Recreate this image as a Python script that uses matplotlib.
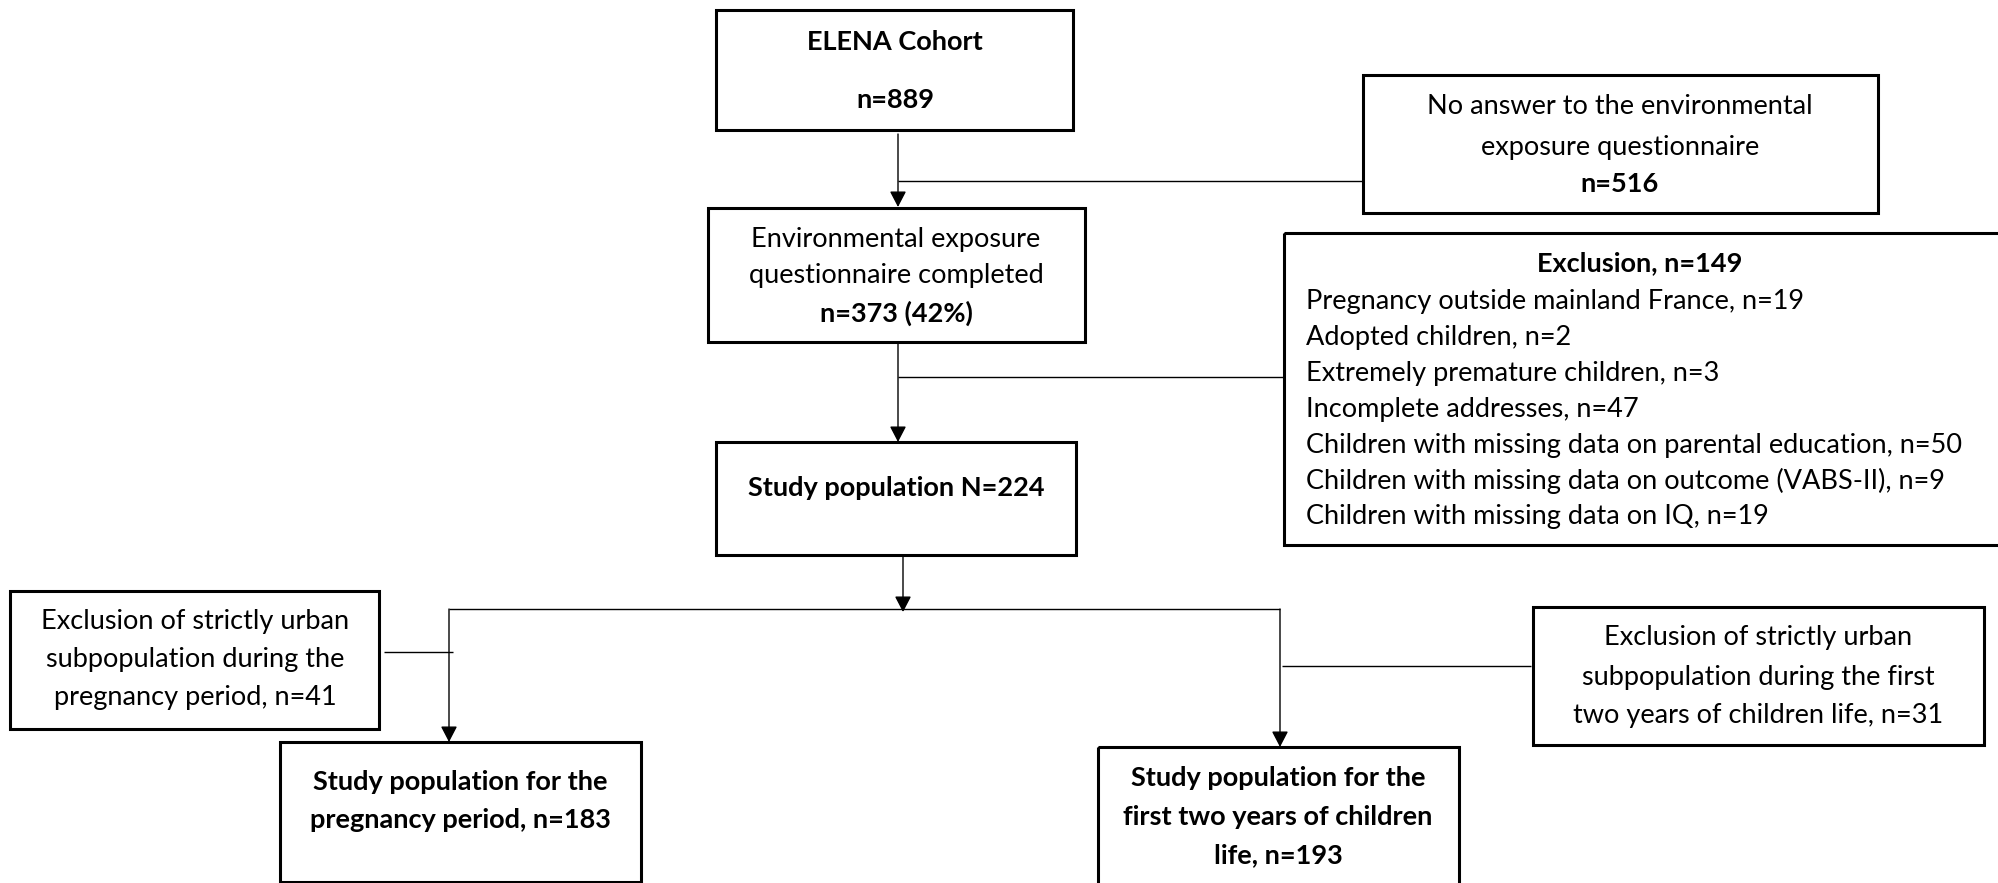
import matplotlib.pyplot as plt
from matplotlib.patches import Rectangle

# counts
n_cohort = 889
n_no_answer = 516
n_completed = 373
pct_completed = 42
n_excluded = 149
excl_reasons = ["Pregnancy outside mainland France", "Adopted children",
                "Extremely premature children", "Incomplete addresses",
                "Children with missing data on parental education",
                "Children with missing data on outcome (VABS-II)",
                "Children with missing data on IQ"]
excl_counts = [19, 2, 3, 47, 50, 9, 19]
n_study = 224
n_urban_preg = 41
n_preg = 183
n_urban_child = 31
n_child = 193

FONT = "Lato"
FS = 19.5
BOX_LW = 2.2
LINE_LW = 1.0

fig = plt.figure(figsize=(19.99, 8.83), dpi=100)
ax = fig.add_axes([0, 0, 1, 1])
ax.set_xlim(0, 1999)
ax.set_ylim(883, 0)
ax.axis("off")


def box(x0, y0, x1, y1):
    ax.add_patch(Rectangle((x0, y0), x1 - x0, y1 - y0, fill=False,
                           ec="black", lw=BOX_LW, clip_on=False))


def lines_centered(cx, rows):
    # rows: (y, text, bold)
    for y, txt, bold in rows:
        ax.text(cx, y, txt, ha="center", va="center", fontsize=FS,
                family=FONT, fontweight="bold" if bold else "normal")


def seg(xs, ys):
    ax.plot(xs, ys, color="black", lw=LINE_LW, solid_capstyle="butt")


def arrow(x, y0, y1):
    ax.annotate("", xy=(x, y1), xytext=(x, y0),
                arrowprops=dict(arrowstyle="-|>,head_length=0.48,head_width=0.25",
                                color="black", lw=LINE_LW, shrinkA=0, shrinkB=0,
                                mutation_scale=20))


# ELENA cohort
box(716, 10, 1073, 130)
lines_centered(895, [(42, "ELENA Cohort", True), (100, f"n={n_cohort}", True)])

# no answer
box(1363, 75, 1878, 213)
lines_centered(1620, [(106, "No answer to the environmental", False),
                      (147, "exposure questionnaire", False),
                      (184, f"n={n_no_answer}", True)])

# questionnaire completed
box(708, 208, 1085, 342)
lines_centered(896, [(240, "Environmental exposure", False),
                     (276, "questionnaire completed", False),
                     (313, f"n={n_completed} ({pct_completed}%)", True)])

# exclusion list
box(1284, 233, 2010, 545)
ax.text(1640, 263, f"Exclusion, n={n_excluded}", ha="center", va="center",
        fontsize=FS, family=FONT, fontweight="bold")
for i, (reason, cnt) in enumerate(zip(excl_reasons, excl_counts)):
    ax.text(1306, 302 + i * 35.8, f"{reason}, n={cnt}", ha="left", va="center",
            fontsize=FS, family=FONT)

# study population
box(716, 442, 1076, 555)
lines_centered(896, [(488, f"Study population N={n_study}", True)])

# urban exclusion, pregnancy
box(10, 591, 379, 729)
lines_centered(195, [(622, "Exclusion of strictly urban", False),
                     (660, "subpopulation during the", False),
                     (698, f"pregnancy period, n={n_urban_preg}", False)])

# study population, pregnancy
box(280, 742, 641, 882)
lines_centered(460, [(782, "Study population for the", True),
                     (820, f"pregnancy period, n={n_preg}", True)])

# study population, first two years
box(1098, 747, 1459, 890)
lines_centered(1278, [(778, "Study population for the", True),
                      (817, "first two years of children", True),
                      (855, f"life, n={n_child}", True)])

# urban exclusion, first two years
box(1533, 607, 1984, 745)
lines_centered(1758, [(638, "Exclusion of strictly urban", False),
                      (677, "subpopulation during the first", False),
                      (715, f"two years of children life, n={n_urban_child}", False)])

# connectors
arrow(898, 134, 207)
seg([898, 1363], [181, 181])
arrow(898, 344, 442)
seg([898, 1284], [377, 377])
arrow(903, 557, 612)
seg([449, 1280], [609, 609])
arrow(449, 609, 742)
arrow(1280, 609, 747)
seg([384, 453], [652, 652])
seg([1282, 1531], [666, 666])

fig.savefig("out.png", dpi=100)
